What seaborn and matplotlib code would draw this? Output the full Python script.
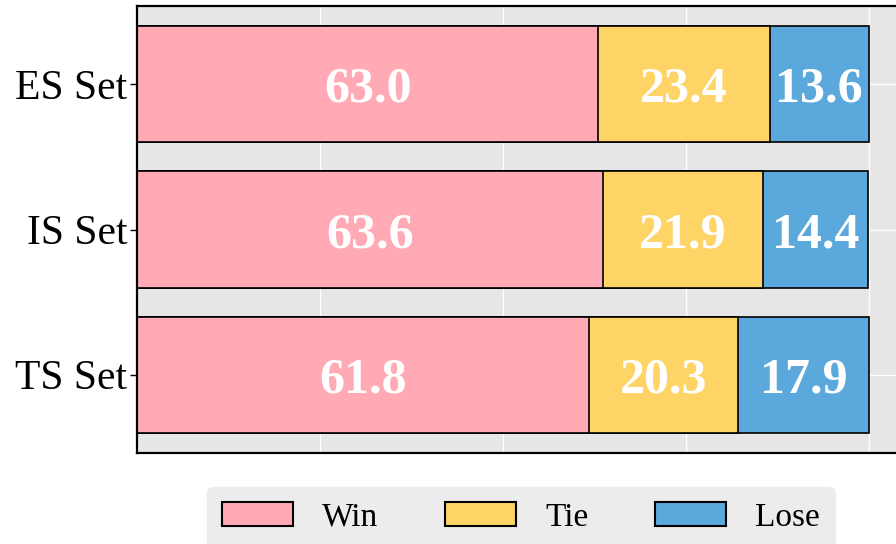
import numpy as np
import pandas as pd
import matplotlib
matplotlib.use("Agg")
import matplotlib.pyplot as plt
import seaborn as sns
from matplotlib.patches import Patch

# data
sets = ["ES Set", "IS Set", "TS Set"]
win = [63.0, 63.6, 61.8]
tie = [23.4, 21.9, 20.3]
lose = [13.6, 14.4, 17.9]

outcomes = ["Win", "Tie", "Lose"]
colors = {"Win": "#FFAAB5", "Tie": "#FED466", "Lose": "#5BA8DC"}


def build_frame():
    """Cumulative ends of each segment, for layered drawing"""
    df = pd.DataFrame({"set": sets, "Win": win, "Tie": tie, "Lose": lose})
    df["end_Win"] = df["Win"]
    df["end_Tie"] = df["Win"] + df["Tie"]
    df["end_Lose"] = df["end_Tie"] + df["Lose"]
    return df


def plot(df):
    sns.set_theme(style="darkgrid")
    plt.rcParams["font.family"] = ["Liberation Serif", "DejaVu Serif"]

    fig = plt.figure(figsize=(8.96, 5.44), dpi=100)
    ax = fig.add_axes([137 / 896, 1 - 453 / 544, 776 / 896, 447 / 544])
    ax.set_facecolor("#e6e6e6")

    # draw longest first so shorter segments sit on top
    for name in reversed(outcomes):
        sns.barplot(data=df, y="set", x="end_" + name, orient="h",
                    color=colors[name], saturation=1, width=0.8,
                    edgecolor="black", linewidth=1.2, ax=ax, zorder=2)

    for i in range(len(df)):
        start = 0
        for name in outcomes:
            val = df[name].iloc[i]
            ax.text(start + val / 2, i, f"{val:.1f}", ha="center", va="center_baseline",
                    color="white", fontsize=36, fontweight="bold", zorder=3)
            start += val

    ax.set_xlim(0, 106)
    ax.set_ylim(2.54, -0.54)
    ax.set_xticks([0, 25, 50, 75, 100])
    ax.tick_params(axis="x", length=0, labelbottom=False)
    ax.tick_params(axis="y", length=5, width=1, color="black", labelsize=30,
                   labelcolor="black", pad=2, left=True)
    ax.grid(True, color="white", linewidth=1)
    ax.set_xlabel("")
    ax.set_ylabel("")
    for s in ax.spines.values():
        s.set_visible(True)
        s.set_color("black")
        s.set_linewidth(1.6)

    handles = [Patch(facecolor=colors[n], edgecolor="black", linewidth=1.5, label=n)
               for n in outcomes]
    leg = fig.legend(handles=handles, loc="upper center", bbox_to_anchor=(521 / 896, 1 - 487 / 544),
                     ncol=3, frameon=True, fontsize=24, handlelength=2.13, handleheight=0.72,
                     handletextpad=0.87, columnspacing=2.0, borderpad=0.45, borderaxespad=0,
                     fancybox=True)
    leg.get_frame().set_facecolor("#ececec")
    leg.get_frame().set_edgecolor("#ececec")
    leg.get_frame().set_alpha(1)
    for t in leg.get_texts():
        t.set_color("black")

    fig.savefig("out.png", dpi=100)


if __name__ == "__main__":
    plot(build_frame())
